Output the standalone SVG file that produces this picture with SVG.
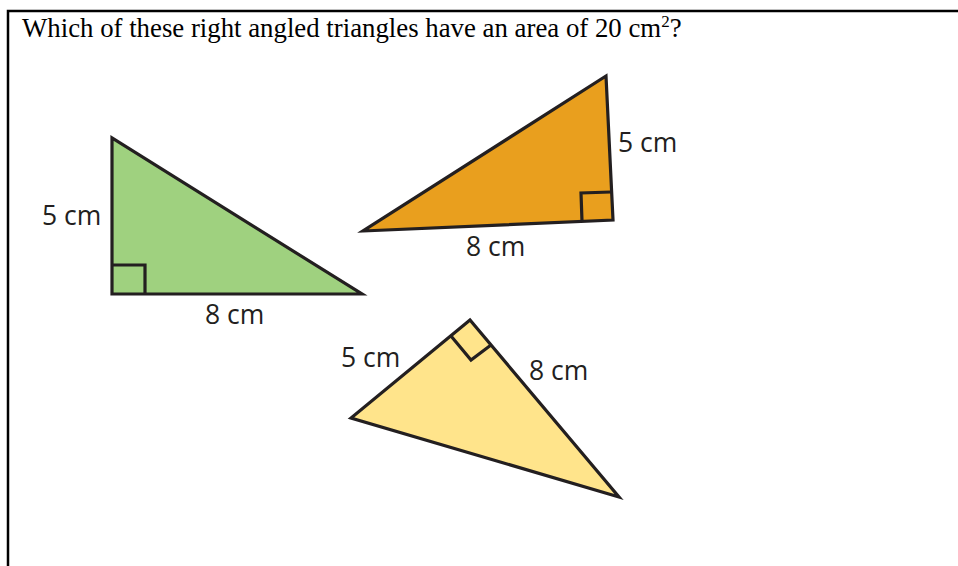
<svg xmlns="http://www.w3.org/2000/svg" width="958" height="566" viewBox="0 0 958 566">
<style>
.frame{fill:none;stroke:#000;stroke-width:2.5}
.title{font-family:"Liberation Serif","Times New Roman",serif;font-size:26.8px;fill:#000}
.tri{stroke:#231f20;stroke-width:3.2;stroke-linejoin:miter}
.sq{fill:none;stroke:#231f20;stroke-width:3.2}
.lbl{font-family:"Open Sans","Noto Sans",sans-serif;font-size:26.5px;fill:#231f20}
</style>
<rect width="958" height="566" fill="#fff"/>
<path class="frame" d="M8,566 V11 H958"/>
<text class="title" x="22" y="37">Which of these right angled triangles have an area of 20 cm<tspan dy="-10" font-size="17">2</tspan><tspan dy="10">?</tspan></text>
<g id="green">
<polygon class="tri" fill="#9fd17f" points="112,138 112,294 362,294"/>
<polyline class="sq" points="112,265 145,265 145,294"/>
<text class="lbl" x="42" y="225">5 cm</text>
<text class="lbl" x="205" y="324">8 cm</text>
</g>
<g id="orange">
<polygon class="tri" fill="#e99f1e" points="606,76 613,220 363,231"/>
<polyline class="sq" points="611,192 581,193 582,221"/>
<text class="lbl" x="618" y="152">5 cm</text>
<text class="lbl" x="466" y="256">8 cm</text>
</g>
<g id="yellow">
<polygon class="tri" fill="#ffe48b" points="470,320 351,418 619,497"/>
<polyline class="sq" points="451,336 471,360 491,345"/>
<text class="lbl" x="341" y="367">5 cm</text>
<text class="lbl" x="529" y="380">8 cm</text>
</g>
</svg>
